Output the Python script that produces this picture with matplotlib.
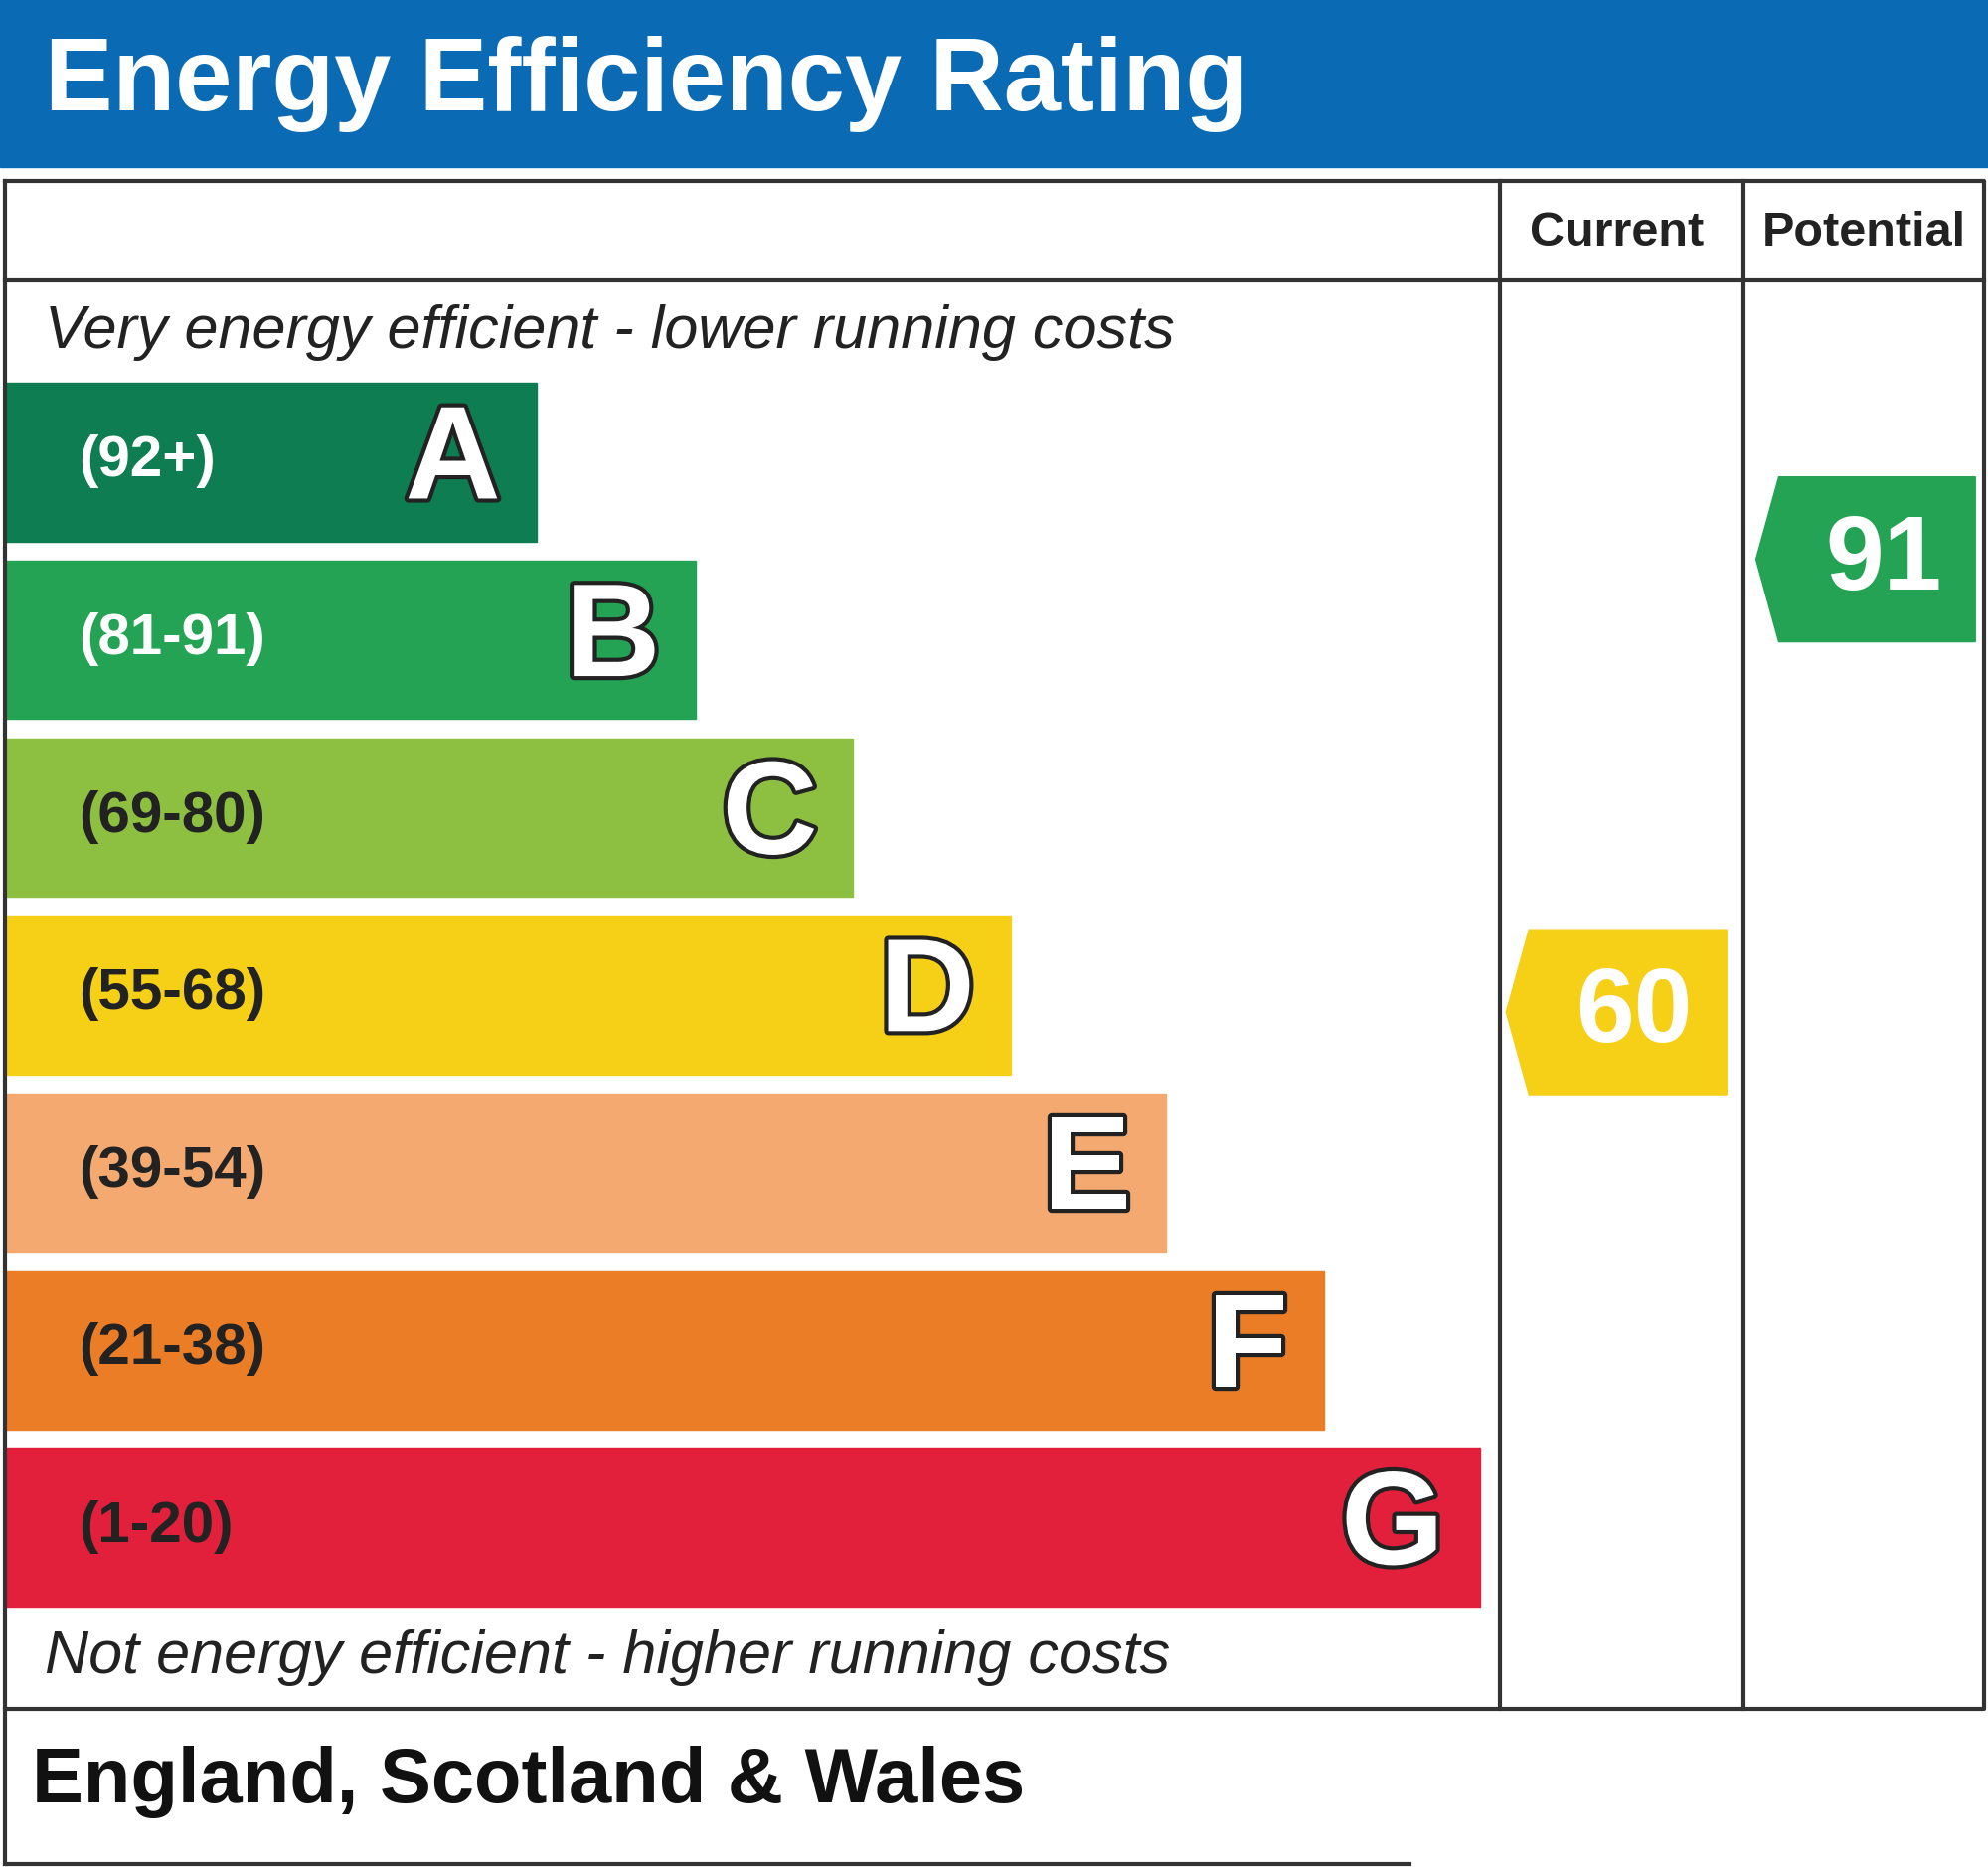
import matplotlib
matplotlib.use("Agg")
import matplotlib.pyplot as plt
from matplotlib.patches import Rectangle, Polygon
import matplotlib.patheffects as pe

letters = ["A", "B", "C", "D", "E", "F", "G"]
ranges = ["(92+)", "(81-91)", "(69-80)", "(55-68)", "(39-54)", "(21-38)", "(1-20)"]
bar_ends = [423, 549, 673, 797, 920, 1044, 1167]
colors = ["#0f7d52", "#23a353", "#8dbf41", "#f6cf17", "#f3a96f", "#ec7d27", "#e3203b"]
range_colors = ["white", "white", "#222222", "#222222", "#222222", "#222222", "#222222"]
current_value, current_color = 60, "#f6cf17"
potential_value, potential_color = 91, "#23a353"

W, H = 1568, 1472
fig = plt.figure(figsize=(20, 18.78), dpi=100)
ax = fig.add_axes([0, 0, 1, 1])
ax.set_xlim(0, W); ax.set_ylim(H, 0); ax.axis("off")
F = "Liberation Sans"

ax.add_patch(Rectangle((0, 0), W, 132, color="#0a6ab3"))
ax.text(35, 66, "Energy Efficiency Rating", color="white", fontsize=74, fontweight="bold",
        family=F, va="center", ha="left")

lw = 3
ax.plot([4, 1565, 1565, 4, 4], [143, 143, 1347, 1347, 143], color="#333333", lw=lw)
ax.plot([4, 1565], [221, 221], color="#333333", lw=lw)
for x in (1183, 1375):
    ax.plot([x, x], [143, 1347], color="#333333", lw=lw)
ax.plot([4, 1112], [1470, 1470], color="#333333", lw=lw)
ax.plot([4, 4], [1347, 1470], color="#333333", lw=lw)
ax.text(1275, 184, "Current", fontsize=35, fontweight="bold", family=F, ha="center", va="center", color="#222222")
ax.text(1470, 184, "Potential", fontsize=35, fontweight="bold", family=F, ha="center", va="center", color="#222222")

ax.text(35, 262, "Very energy efficient - lower running costs", fontsize=44, style="italic",
        family=F, ha="left", va="center", color="#222222")
ax.text(35, 1307, "Not energy efficient - higher running costs", fontsize=44, style="italic",
        family=F, ha="left", va="center", color="#222222")

for i, (L, r, e, c, rc) in enumerate(zip(letters, ranges, bar_ends, colors, range_colors)):
    top = 302 + 140 * i
    ax.add_patch(Rectangle((5, top), e - 5, 125, color=c))
    yc = top + 62
    ax.text(62, yc, r, fontsize=42, fontweight="bold", family=F, ha="left", va="center", color=rc)
    ax.text(e - 28, yc + 2, L, fontsize=96, fontweight="bold", family=F, ha="right", va="center",
            color="white", path_effects=[pe.withStroke(linewidth=6, foreground="#222222")])

ax.text(25, 1405, "England, Scotland & Wales", fontsize=56, fontweight="bold", family=F,
        ha="left", va="center", color="#111111")

def arrow(x0, x1, yc, val, col):
    h = 65
    ax.add_patch(Polygon([(x0, yc), (x0 + 18, yc - h), (x1, yc - h), (x1, yc + h), (x0 + 18, yc + h)],
                         closed=True, color=col))
    ax.text((x0 + 18 + x1) / 2 + 5, yc + 2, str(val), fontsize=76, fontweight="bold", family=F,
            ha="center", va="center", color="white")

arrow(1188, 1362, 798, current_value, current_color)
arrow(1385, 1558, 441, potential_value, potential_color)

fig.savefig("out.png", dpi=100, facecolor="white")
